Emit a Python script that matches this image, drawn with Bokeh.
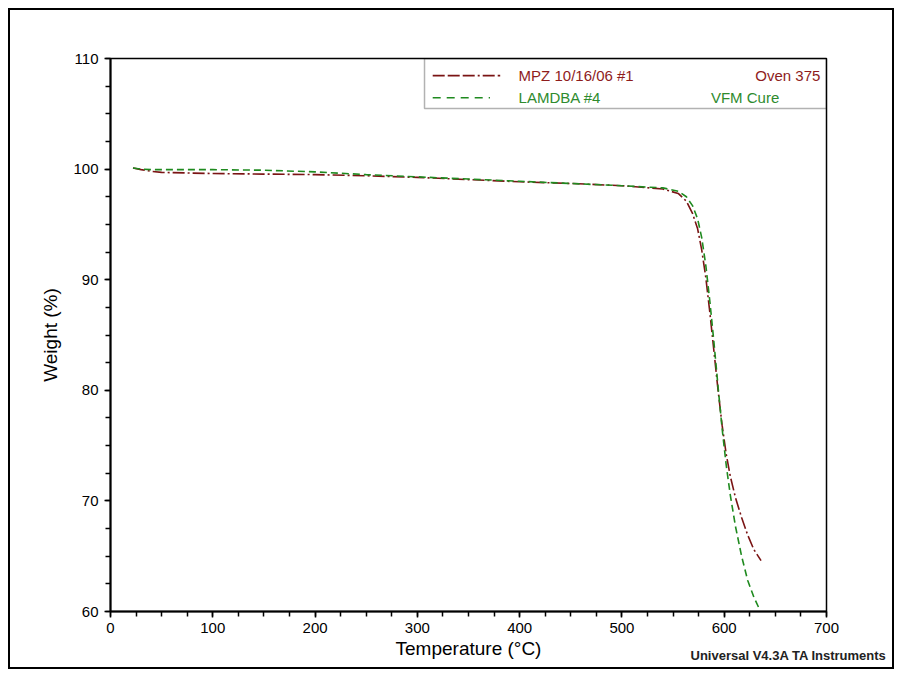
from bokeh.plotting import figure
from bokeh.models import SingleIntervalTicker, Range1d, BoxAnnotation, ColumnDataSource, Title
from bokeh.core.properties import value
from bokeh.embed import file_html
from bokeh.resources import INLINE

# ---- data ----
temp_mpz = [22, 30, 40, 50, 75, 100, 150, 200, 250, 300, 350, 400, 450, 500, 540, 555, 563,
            569, 574, 578, 582, 586, 590, 594, 598, 602, 606, 611, 617, 623, 629, 636]
wt_mpz = [100.1, 99.95, 99.8, 99.7, 99.65, 99.6, 99.55, 99.5, 99.4, 99.25, 99.05, 98.85, 98.7,
          98.5, 98.2, 97.8, 97.1, 96.0, 94.6, 92.7, 90.2, 87.0, 83.5, 80.0, 76.8, 74.2, 72.2,
          70.3, 68.5, 66.9, 65.6, 64.6]
temp_lam = [22, 30, 40, 50, 75, 100, 150, 200, 250, 300, 350, 400, 450, 500, 540, 555, 563,
            569, 574, 578, 582, 586, 590, 594, 598, 602, 606, 611, 617, 623, 629, 634]
wt_lam = [100.1, 100.0, 99.95, 99.95, 99.95, 99.95, 99.9, 99.75, 99.5, 99.3, 99.1, 98.9, 98.7,
          98.5, 98.3, 98.0, 97.5, 96.7, 95.5, 93.8, 91.3, 88.0, 84.3, 80.3, 76.5, 73.2, 70.5,
          67.7, 65.0, 62.8, 61.3, 60.3]

series_names = ["MPZ 10/16/06 #1", "LAMDBA #4"]
series_notes = ["Oven 375", "VFM Cure"]
footer = "Universal V4.3A TA Instruments"
x_ticks_interval = 100
y_ticks_interval = 10

# ---- styles ----
RED = "#7a1414"
RED_TXT = "#8e1c1c"
GREEN = "#1f8a1f"
GREEN_TXT = "#2e8b2e"
FONT = "Liberation Sans"

p = figure(width=882, height=657, output_backend="svg", toolbar_location=None,
           x_range=Range1d(0, 700), y_range=Range1d(60, 110),
           min_border_left=100, min_border_right=66, min_border_top=48, min_border_bottom=56,
           background_fill_color="white", border_fill_color="white")
p.styles = {"margin": "10px 0 0 10px", "outline": "2px solid black", "outline-offset": "0px"}

p.xgrid.visible = False
p.ygrid.visible = False
p.outline_line_color = "black"
p.outline_line_width = 1.5

p.xaxis.ticker = SingleIntervalTicker(interval=x_ticks_interval, num_minor_ticks=4)
p.yaxis.ticker = SingleIntervalTicker(interval=y_ticks_interval, num_minor_ticks=4)
for ax in (p.xaxis[0], p.yaxis[0]):
    ax.axis_line_width = 2
    ax.axis_line_color = "black"
    ax.major_tick_in = 0
    ax.major_tick_out = 6
    ax.minor_tick_in = 0
    ax.minor_tick_out = 5
    ax.major_tick_line_width = 1.5
    ax.minor_tick_line_width = 1.5
    ax.major_label_text_font = FONT
    ax.major_label_text_font_size = "15px"
    ax.major_label_text_color = "black"
    ax.axis_label_text_font = FONT
    ax.axis_label_text_font_size = "19px"
    ax.axis_label_text_font_style = "normal"
    ax.axis_label_text_color = "black"
p.xaxis.axis_label = "Temperature (°C)"
p.yaxis.axis_label = "Weight (%)"
p.xaxis.axis_label_standoff = 2
p.yaxis.axis_label_standoff = 9
p.xaxis.major_label_standoff = 5
p.yaxis.major_label_standoff = 6

src_mpz = ColumnDataSource(dict(t=temp_mpz, w=wt_mpz))
src_lam = ColumnDataSource(dict(t=temp_lam, w=wt_lam))
p.line("t", "w", source=src_mpz, line_color=RED, line_width=1.6, line_dash="12 3 2 3")
p.line("t", "w", source=src_lam, line_color=GREEN, line_width=1.6, line_dash="7 4")

# ---- legend box (drawn by hand, as in the original TA Universal Analysis layout) ----
leg_left, leg_right, leg_bottom, leg_top = 307, 700, 105.48, 110
p.add_layout(BoxAnnotation(left=leg_left, right=leg_right, bottom=leg_bottom, top=leg_top,
                           fill_alpha=0, line_color="black", line_width=1.5))
leg_y = [108.45, 106.45]
p.segment(x0=[315], y0=[leg_y[0]], x1=[381], y1=[leg_y[0]],
          line_color=RED, line_width=1.6, line_dash="12 3 12 3 12 3 2 3")
p.segment(x0=[315], y0=[leg_y[1]], x1=[371], y1=[leg_y[1]],
          line_color=GREEN, line_width=1.6, line_dash="8 6")
p.text(x=[399, 399], y=leg_y, text=series_names, text_color=[RED_TXT, GREEN_TXT],
       text_font=value(FONT), text_font_size="15px", text_baseline="middle", text_align="left")
p.text(x=[694, 587], y=leg_y, text=series_notes, text_color=[RED_TXT, GREEN_TXT],
       text_font=value(FONT), text_font_size="15px", text_baseline="middle",
       text_align=["right", "left"])

p.add_layout(Title(text=footer, align="left", offset=580, standoff=-27, vertical_align="top",
                   text_font=FONT, text_font_size="13px", text_font_style="bold",
                   text_color="#222222"), "below")

open("out.html", "w").write(file_html(p, INLINE))
